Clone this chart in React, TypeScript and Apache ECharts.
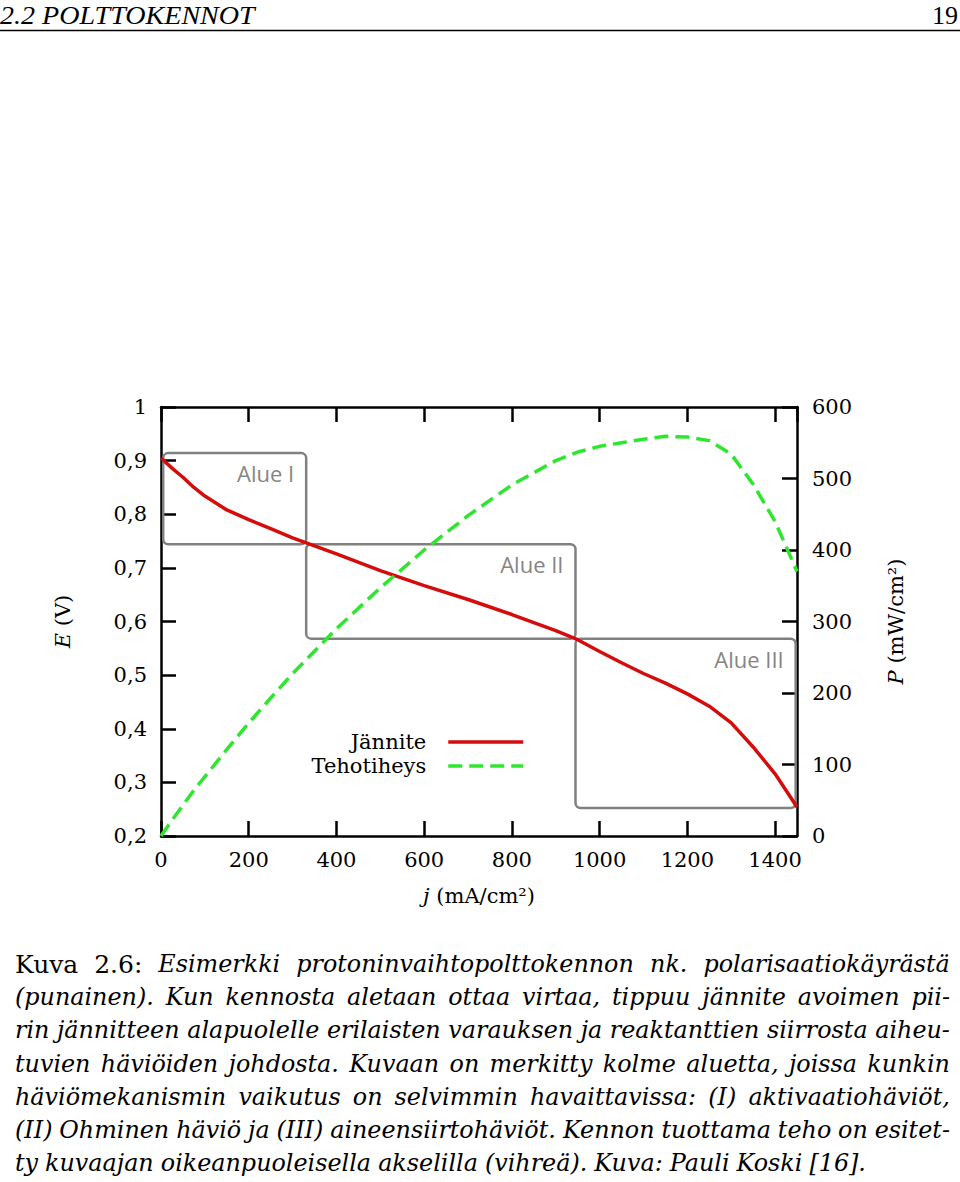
import React, { useEffect, useRef } from 'react';
import * as echarts from 'echarts';

// current density j (mA/cm2)
const currentDensity = [0, 25, 50, 75, 100, 150, 200, 250, 300, 400, 500, 600, 700, 800, 900, 950, 1000, 1050, 1100, 1150, 1200, 1250, 1300, 1350, 1400, 1450];
// cell voltage E (V)
const voltage = [0.905, 0.886, 0.869, 0.85, 0.834, 0.808, 0.79, 0.773, 0.756, 0.726, 0.695, 0.667, 0.641, 0.613, 0.583, 0.566, 0.544, 0.523, 0.503, 0.485, 0.465, 0.442, 0.411, 0.366, 0.316, 0.254];
// power density P (mW/cm2)
const powerDensity = [0, 22, 43, 64, 83, 121, 158, 193, 227, 290, 347, 400, 448, 491, 525, 537, 545, 550, 555, 559, 558, 553, 534, 492, 440, 370];

const regionNames = ['Alue I', 'Alue II', 'Alue III'];
// [j0, E0, j1, E1]
const regionBoxes = [
  [5, 0.914, 331, 0.744],
  [331, 0.744, 945, 0.568],
  [945, 0.568, 1447, 0.252],
];

const seriesNames = ['Jännite', 'Tehotiheys'];

const headerLeft = '2.2 POLTTOKENNOT';
const headerRight = '19';

const captionLines = [
  'Kuva 2.6: Esimerkki protoninvaihtopolttokennon nk. polarisaatiokäyrästä',
  '(punainen). Kun kennosta aletaan ottaa virtaa, tippuu jännite avoimen pii-',
  'rin jännitteen alapuolelle erilaisten varauksen ja reaktanttien siirrosta aiheu-',
  'tuvien häviöiden johdosta. Kuvaan on merkitty kolme aluetta, joissa kunkin',
  'häviömekanismin vaikutus on selvimmin havaittavissa: (I) aktivaatiohäviöt,',
  '(II) Ohminen häviö ja (III) aineensiirtohäviöt. Kennon tuottama teho on esitet-',
  'ty kuvaajan oikeanpuoleisella akselilla (vihreä). Kuva: Pauli Koski [16].',
];

const SERIF = '"DejaVu Serif"';
const HEAD_FONT = '"Liberation Serif"';

function buildCaption(): any[] {
  const NS = 'http://www.w3.org/2000/svg';
  const svg = document.createElementNS(NS, 'svg') as SVGSVGElement;
  svg.setAttribute('width', '10');
  svg.setAttribute('height', '10');
  svg.style.position = 'absolute';
  svg.style.left = '-5000px';
  svg.style.top = '0px';
  document.body.appendChild(svg);
  const t = document.createElementNS(NS, 'text') as SVGTextElement;
  svg.appendChild(t);
  const left = 15;
  const right = 950;
  const avail = right - left;
  const lastLineWidth = 851;
  const italicSize = 24;
  const uprightSize = 25;
  const isItalic = (li: number, wi: number) => !(li === 0 && wi < 2);
  const measure = (w: string, italic: boolean) => {
    t.setAttribute('font-family', 'DejaVu Serif');
    t.setAttribute('font-size', String(italic ? italicSize : uprightSize));
    t.setAttribute('font-style', italic ? 'italic' : 'normal');
    t.textContent = w;
    return t.getComputedTextLength();
  };
  const lastGap = 7;
  const lastWords = captionLines[captionLines.length - 1].split(' ');
  const lastSum = lastWords.reduce((a, w) => a + measure(w, true), 0);
  let sx = (lastLineWidth - lastGap * (lastWords.length - 1)) / lastSum;
  const minGap = 6;
  captionLines.forEach((line, li) => {
    if (li === captionLines.length - 1) return;
    const words = line.split(' ');
    let up = 0;
    let it = 0;
    words.forEach((w, wi) => {
      if (isItalic(li, wi)) it += measure(w, true);
      else up += measure(w, false);
    });
    const s = (avail - minGap * (words.length - 1) - up) / it;
    if (s < sx) sx = s;
  });
  const els: any[] = [];
  captionLines.forEach((line, li) => {
    const words = line.split(' ');
    const widths = words.map((w, wi) => measure(w, isItalic(li, wi)) * (isItalic(li, wi) ? sx : 1));
    const sum = widths.reduce((a, b) => a + b, 0);
    const last = li === captionLines.length - 1;
    const gap = last ? lastGap : (avail - sum) / (words.length - 1);
    let x = left;
    const y = 964 + li * 33.2;
    words.forEach((w, wi) => {
      const ital = isItalic(li, wi);
      els.push({
        type: 'text',
        x,
        y,
        scaleX: ital ? sx : 1,
        silent: true,
        style: {
          text: w,
          font: ital ? `italic ${italicSize}px ${SERIF}` : `${uprightSize}px ${SERIF}`,
          fill: '#000',
          textAlign: 'left',
          align: 'left',
          textVerticalAlign: 'middle',
          verticalAlign: 'middle',
        },
      });
      x += widths[wi] + gap;
    });
  });
  svg.remove();
  return els;
}

export default function App() {
  const ref = useRef<HTMLDivElement>(null);
  useEffect(() => {
    if (!ref.current) return;
    const chart = echarts.init(ref.current, undefined, { renderer: 'svg' });
    const redData = currentDensity.map((j, i) => [j, voltage[i]]);
    const greenData = currentDensity.map((j, i) => [j, powerDensity[i]]);
    const axisLine = { show: true, onZero: false, lineStyle: { color: '#000', width: 2.5 } };
    const tick = { show: true, inside: true, length: 15, lineStyle: { color: '#000', width: 2.5 } };
    const labelStyle = { fontFamily: SERIF, fontSize: 21, color: '#000' };
    const nameStyle = {
      fontFamily: SERIF,
      fontSize: 21,
      color: '#000',
      rich: { i: { fontFamily: SERIF, fontSize: 21, fontStyle: 'italic', color: '#000' } },
    };

    const option: any = {
      animation: false,
      backgroundColor: '#fff',
      grid: { left: 161, right: 163, top: 407, bottom: 346, containLabel: false },
      legend: {
        data: seriesNames,
        orient: 'vertical',
        align: 'right',
        right: 435,
        top: 730,
        padding: 0,
        itemGap: 0,
        itemWidth: 75,
        itemHeight: 14,
        selectedMode: false,
        itemStyle: { opacity: 0, borderWidth: 0 },
        lineStyle: { width: 3.5 },
        textStyle: { fontFamily: SERIF, fontSize: 21, color: '#000', lineHeight: 24, padding: [0, 17, 0, 0] },
      },
      xAxis: [
        {
          type: 'value',
          min: 0,
          max: 1450,
          interval: 200,
          position: 'bottom',
          axisLine,
          axisTick: tick,
          splitLine: { show: false },
          axisLabel: { ...labelStyle, margin: 13, showMaxLabel: false, formatter: (v: number) => (v % 200 === 0 ? String(v) : '') },
          name: '{i|j} (mA/cm²)',
          nameLocation: 'middle',
          nameGap: 49,
          nameTextStyle: nameStyle,
        },
        {
          type: 'value',
          min: 0,
          max: 1450,
          interval: 200,
          position: 'top',
          axisLine,
          axisTick: tick,
          splitLine: { show: false },
          axisLabel: { show: false },
        },
      ],
      yAxis: [
        {
          type: 'value',
          min: 0.2,
          max: 1,
          interval: 0.1,
          position: 'left',
          axisLine,
          axisTick: tick,
          splitLine: { show: false },
          axisLabel: {
            ...labelStyle,
            margin: 14,
            formatter: (v: number) => (Math.abs(v - 1) < 1e-9 ? '1' : v.toFixed(1).replace('.', ',')),
          },
          name: '{i|E} (V)',
          nameLocation: 'middle',
          nameRotate: 90,
          nameGap: 88,
          nameTextStyle: nameStyle,
        },
        {
          type: 'value',
          min: 0,
          max: 600,
          interval: 100,
          position: 'right',
          axisLine,
          axisTick: tick,
          splitLine: { show: false },
          axisLabel: { ...labelStyle, margin: 15 },
          name: '{i|P} (mW/cm²)',
          nameLocation: 'middle',
          nameRotate: 90,
          nameGap: 88,
          nameTextStyle: nameStyle,
        },
      ],
      series: [
        {
          type: 'custom',
          name: 'regions',
          xAxisIndex: 0,
          yAxisIndex: 0,
          silent: true,
          z: 1,
          data: regionBoxes,
          renderItem: (params: any, api: any) => {
            const p0 = api.coord([api.value(0), api.value(1)]);
            const p1 = api.coord([api.value(2), api.value(3)]);
            return {
              type: 'group',
              children: [
                {
                  type: 'rect',
                  shape: { x: p0[0], y: p0[1], width: p1[0] - p0[0], height: p1[1] - p0[1], r: 5 },
                  style: { fill: 'none', stroke: '#808080', lineWidth: 2.5 },
                },
                {
                  type: 'text',
                  x: p1[0] - 12,
                  y: p0[1] + 20,
                  style: {
                    text: regionNames[params.dataIndex],
                    font: '22px "Open Sans"',
                    fill: '#858585',
                    textAlign: 'right',
                    align: 'right',
                    textVerticalAlign: 'middle',
                    verticalAlign: 'middle',
                  },
                },
              ],
            };
          },
        },
        {
          type: 'line',
          name: seriesNames[0],
          xAxisIndex: 0,
          yAxisIndex: 0,
          data: redData,
          symbol: 'none',
          showSymbol: false,
          z: 3,
          lineStyle: { color: '#d40c0c', width: 3.5 },
          itemStyle: { color: '#d40c0c' },
        },
        {
          type: 'line',
          name: seriesNames[1],
          xAxisIndex: 0,
          yAxisIndex: 1,
          data: greenData,
          symbol: 'none',
          showSymbol: false,
          z: 3,
          lineStyle: { color: '#2ee62e', width: 3.5, type: [14, 7] },
          itemStyle: { color: '#2ee62e' },
        },
      ],
      graphic: [
        {
          type: 'text',
          x: 0,
          y: 15,
          scaleX: 1.08,
          silent: true,
          style: {
            text: headerLeft,
            font: `italic 26px ${HEAD_FONT}`,
            fill: '#000',
            textAlign: 'left',
            align: 'left',
            textVerticalAlign: 'middle',
            verticalAlign: 'middle',
          },
        },
        {
          type: 'text',
          x: 958,
          y: 15,
          silent: true,
          style: {
            text: headerRight,
            font: `26px ${HEAD_FONT}`,
            fill: '#000',
            textAlign: 'right',
            align: 'right',
            textVerticalAlign: 'middle',
            verticalAlign: 'middle',
          },
        },
        {
          type: 'line',
          silent: true,
          shape: { x1: 0, y1: 30.5, x2: 960, y2: 30.5 },
          style: { stroke: '#000', lineWidth: 1.6 },
        },
        ...buildCaption(),
      ],
    };
    chart.setOption(option);
    return () => chart.dispose();
  }, []);
  return (
    <div
      ref={ref}
      style={{ position: 'absolute', left: 0, top: 0, width: 960, height: 1182, background: '#fff' }}
    />
  );
}
